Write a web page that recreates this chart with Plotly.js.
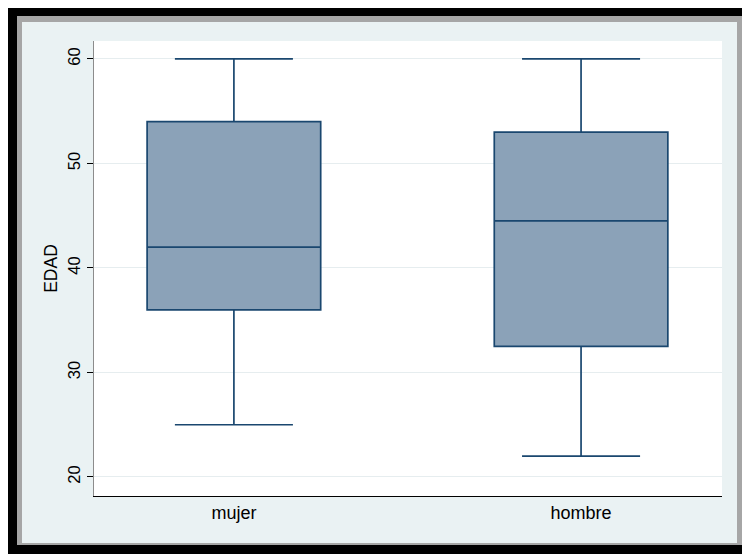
<!DOCTYPE html>
<html>
<head>
<meta charset="utf-8">
<script src="https://cdn.plot.ly/plotly-3.0.1.min.js"></script>
<style>
  html, body { margin: 0; padding: 0; width: 742px; height: 554px; overflow: hidden; background: #ffffff; }
  #frame { position: absolute; left: 8px; top: 8px; width: 740px; height: 550px; background: #000000; }
  #shadow { position: absolute; left: 17px; top: 16px; width: 725px; height: 529px; background: #a6a6a6; }
  #chart { position: absolute; left: 22px; top: 22px; width: 715px; height: 521px; }
</style>
</head>
<body>
<div id="frame"></div>
<div id="shadow"></div>
<div id="chart"></div>
<script>
const categories = ["mujer", "hombre"];
const lowerWhisker = [25, 22];
const q1Values = [36, 32.5];
const medianValues = [42, 44.5];
const q3Values = [54, 53];
const upperWhisker = [60, 60];
const yTicks = [20, 30, 40, 50, 60];

const trace = {
  type: "box",
  x: categories,
  q1: q1Values,
  median: medianValues,
  q3: q3Values,
  lowerfence: lowerWhisker,
  upperfence: upperWhisker,
  width: 0.5,
  whiskerwidth: 0.68,
  fillcolor: "#8BA2B8",
  line: { color: "#1A476F", width: 1.7 },
  hoverinfo: "skip",
  showlegend: false
};

const layout = {
  width: 715,
  height: 521,
  margin: { l: 72, r: 15, t: 19, b: 47 },
  paper_bgcolor: "#EAF2F3",
  plot_bgcolor: "#FFFFFF",
  font: { family: "Liberation Sans, Arial, sans-serif", color: "#000000", size: 16 },
  xaxis: {
    type: "category",
    range: [-0.403, 1.406],
    showgrid: false,
    zeroline: false,
    showline: true,
    linecolor: "#000000",
    linewidth: 1,
    ticks: "",
    tickfont: { size: 18, color: "#000000" },
    fixedrange: true
  },
  yaxis: {
    range: [18.18, 61.72],
    tickvals: yTicks,
    ticktext: yTicks.map(String),
    tickangle: -90,
    ticks: "outside",
    ticklen: 6,
    tickcolor: "#000000",
    tickwidth: 1,
    showline: true,
    linecolor: "#8C8C8C",
    linewidth: 1,
    showgrid: true,
    gridcolor: "#E6EDEF",
    gridwidth: 1,
    zeroline: false,
    tickfont: { size: 16.5, color: "#000000" },
    title: { text: "EDAD", font: { size: 17.5, color: "#000000" }, standoff: 3 },
    fixedrange: true
  }
};

Plotly.newPlot("chart", [trace], layout, { displayModeBar: false, staticPlot: true });
</script>
</body>
</html>
